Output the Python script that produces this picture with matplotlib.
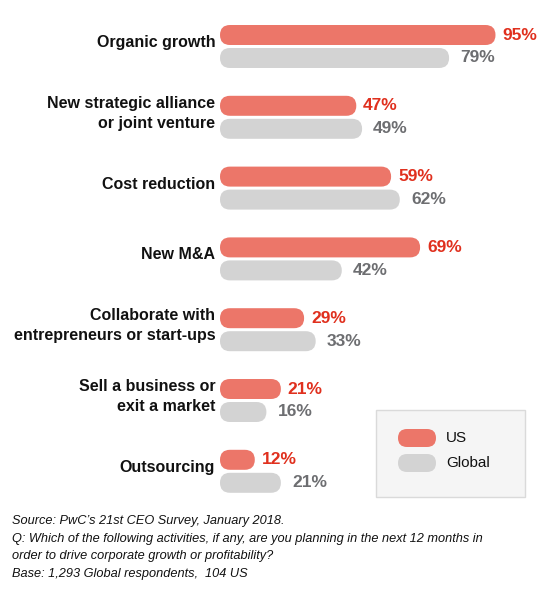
import matplotlib
matplotlib.use("Agg")
import matplotlib.pyplot as plt
from matplotlib.patches import FancyBboxPatch, Rectangle

categories = [
    "Organic growth",
    "New strategic alliance\nor joint venture",
    "Cost reduction",
    "New M&A",
    "Collaborate with\nentrepreneurs or start-ups",
    "Sell a business or\nexit a market",
    "Outsourcing",
]
us_values = [95, 47, 59, 69, 29, 21, 12]
global_values = [79, 49, 62, 42, 33, 16, 21]

US_COLOR = "#EC7669"
GLOBAL_COLOR = "#D3D3D3"
US_TEXT = "#E0301E"
GLOBAL_TEXT = "#6D6E71"

plt.rcParams["font.family"] = ["Liberation Sans", "DejaVu Sans"]

W, H = 555, 607
fig = plt.figure(figsize=(W / 100, H / 100), dpi=100)
fig.patch.set_facecolor("white")

# axes: x in percent (2.9 px per %), y in pixels from the top
px_per_pct = 2.9
ax = fig.add_axes([220 / W, 0, 100 * px_per_pct / W, 1])
ax.set_xlim(0, 100)
ax.set_ylim(H, 0)
ax.axis("off")

first_center, spacing = 46.5, 70.8
bar_h, offset = 20, 11.5
radius_px = bar_h / 2


def pill(axis, x, y, width, color, aspect):
    patch = FancyBboxPatch(
        (x, y - bar_h / 2), width, bar_h,
        boxstyle=f"round,pad=0,rounding_size={radius_px / aspect}",
        mutation_aspect=aspect, fc=color, ec="none", clip_on=False,
    )
    axis.add_patch(patch)


for i, (cat, us, gl) in enumerate(zip(categories, us_values, global_values)):
    yc = first_center + i * spacing
    pill(ax, 0, yc - offset, us, US_COLOR, px_per_pct)
    pill(ax, 0, yc + offset, gl, GLOBAL_COLOR, px_per_pct)
    ax.annotate(f"{us}%", (us, yc - offset), xytext=(5, 0), textcoords="offset points",
                ha="left", va="center", fontsize=12.5, fontweight="bold", color=US_TEXT)
    ax.annotate(f"{gl}%", (gl, yc + offset), xytext=(8, 0), textcoords="offset points",
                ha="left", va="center", fontsize=12.5, fontweight="bold", color=GLOBAL_TEXT)
    ax.annotate(cat, (0, yc - 4), xytext=(-3.5, 0), textcoords="offset points",
                ha="right", va="center", fontsize=11.5, fontweight="bold",
                color="#111111", linespacing=1.45)

# legend box in pixel coordinates
lax = fig.add_axes([0, 0, 1, 1], zorder=3)
lax.set_xlim(0, W)
lax.set_ylim(H, 0)
lax.axis("off")
lax.patch.set_alpha(0)
lax.add_patch(Rectangle((376, 410), 149, 87, fc="#F5F5F5", ec="#DADADA", lw=1))
for j, (name, color) in enumerate([("US", US_COLOR), ("Global", GLOBAL_COLOR)]):
    ly = 438 + j * 25
    lax.add_patch(FancyBboxPatch((398, ly - 9), 38, 18,
                                 boxstyle="round,pad=0,rounding_size=9",
                                 fc=color, ec="none"))
    lax.text(446, ly, name, ha="left", va="center", fontsize=11, color="#111111")

footnote = (
    "Source: PwC\u2019s 21st CEO Survey, January 2018.\n"
    "Q: Which of the following activities, if any, are you planning in the next 12 months in\n"
    "order to drive corporate growth or profitability?\n"
    "Base: 1,293 Global respondents,  104 US"
)
lax.text(12, 515, footnote, ha="left", va="top", fontsize=9.2, style="italic",
         color="#111111", linespacing=1.62)

fig.savefig("out.png", dpi=100, facecolor="white")
